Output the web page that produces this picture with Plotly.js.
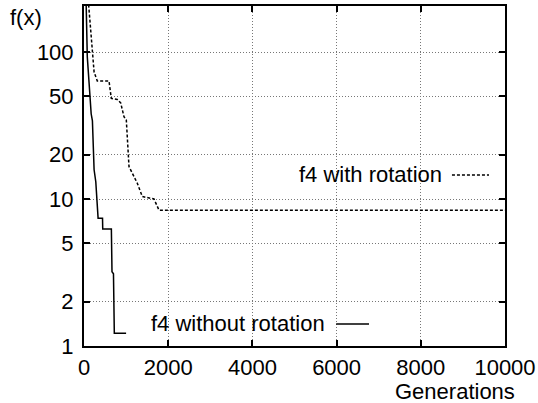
<!DOCTYPE html>
<html>
<head>
<meta charset="utf-8">
<script src="https://cdn.plot.ly/plotly-3.0.1.min.js"></script>
<style>html,body{margin:0;padding:0;background:#fff;}#chart{width:538px;height:403px;}</style>
</head>
<body>
<div id="chart"></div>
<script>
// f4 without rotation (solid)
const genNoRot = [50, 78, 120, 150, 170, 200, 220, 240, 280, 315, 335, 440, 445, 650, 665, 700, 720, 1000];
const fNoRot   = [220, 93, 62, 45, 38, 34, 20.5, 15.8, 13.1, 8.9, 7.4, 7.4, 6.25, 6.25, 3.2, 3.1, 1.22, 1.22];
// f4 with rotation (dashed)
const genRot = [110, 160, 200, 240, 316, 594, 648, 791, 872, 910, 950, 1005, 1029, 1069, 1147, 1266, 1385, 1663, 1781, 10000];
const fRot   = [210, 135, 98, 73, 63.5, 63.5, 48.4, 47.5, 45, 40.3, 36.3, 34.5, 23.9, 16.6, 15, 12.8, 10.4, 10, 8.4, 8.4];

const xTicks = [0, 2000, 4000, 6000, 8000, 10000];
const yTicks = [1, 2, 5, 10, 20, 50, 100];
const yTickText = ['1', '2', '5', '10', '20', '50', '100'];

const FONT = 'Liberation Sans, Arial, sans-serif';
const FS = 22;

const traces = [
  {x: genNoRot, y: fNoRot, type: 'scatter', mode: 'lines', line: {color: '#000', width: 1.5}, name: 'f4 without rotation', showlegend: false},
  {x: genRot, y: fRot, type: 'scatter', mode: 'lines', line: {color: '#000', width: 1.5, dash: '3px,2px'}, name: 'f4 with rotation', showlegend: false}
];

const axisCommon = {
  showline: true, linecolor: '#000', linewidth: 2, mirror: 'allticks',
  ticks: 'inside', ticklen: 6, tickwidth: 2, tickcolor: '#000',
  showgrid: true, gridcolor: '#777', gridwidth: 1, griddash: '1px,2px',
  zeroline: false, tickfont: {family: FONT, size: FS, color: '#000'}
};

const layout = {
  width: 538, height: 403,
  margin: {l: 84, r: 33, t: 6, b: 57},
  paper_bgcolor: '#fff', plot_bgcolor: '#fff',
  showlegend: false,
  xaxis: Object.assign({}, axisCommon, {range: [0, 10000], tickvals: xTicks, ticktext: xTicks.map(String), ticklabelstandoff: 1}),
  yaxis: Object.assign({}, axisCommon, {type: 'log', range: [0, 2.313], tickvals: yTicks, ticktext: yTickText, ticklabelstandoff: 4}),
  annotations: [
    {text: 'f(x)', xref: 'paper', yref: 'paper', x: -0.138, y: 0.965, xanchor: 'center', yanchor: 'middle', showarrow: false, font: {family: FONT, size: FS, color: '#000'}},
    {text: 'Generations', xref: 'paper', yref: 'paper', x: 0.881, y: -0.09, xanchor: 'center', yanchor: 'top', showarrow: false, font: {family: FONT, size: FS, color: '#000'}},
    {text: 'f4 with rotation', xref: 'paper', yref: 'paper', x: 0.856, y: 0.503, xanchor: 'right', yanchor: 'middle', showarrow: false, font: {family: FONT, size: FS, color: '#000'}},
    {text: 'f4 without rotation', xref: 'paper', yref: 'paper', x: 0.578, y: 0.065, xanchor: 'right', yanchor: 'middle', showarrow: false, font: {family: FONT, size: FS, color: '#000'}}
  ],
  shapes: [
    {type: 'line', xref: 'paper', yref: 'paper', x0: 0.874, x1: 0.962, y0: 0.503, y1: 0.503, line: {color: '#000', width: 1.5, dash: '3px,2px'}},
    {type: 'line', xref: 'paper', yref: 'paper', x0: 0.599, x1: 0.677, y0: 0.065, y1: 0.065, line: {color: '#000', width: 1.5}}
  ]
};

Plotly.newPlot('chart', traces, layout, {staticPlot: true, displayModeBar: false});
</script>
</body>
</html>
